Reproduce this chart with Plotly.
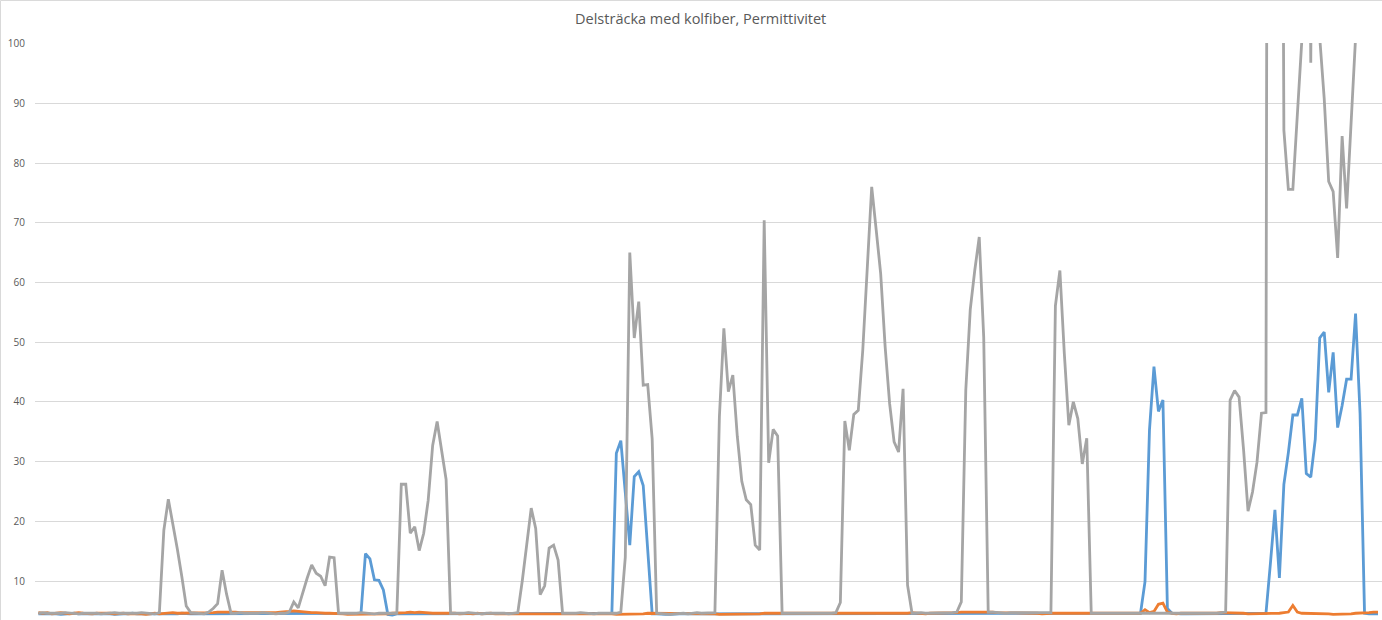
import plotly.graph_objects as go

# Sample number along the measured stretch
sample = list(range(300))

# Permittivity readings, one list per measurement series
serie_1 = [
    4.5, 4.5, 4.6, 4.5, 4.5, 4.4, 4.5, 4.5, 4.6, 4.5,
    4.5, 4.5, 4.5, 4.6, 4.5, 4.5, 4.5, 4.4, 4.5, 4.5,
    4.5, 4.6, 4.5, 4.5, 4.5, 4.5, 4.4, 4.5, 4.5, 4.5,
    4.5, 4.5, 4.6, 4.5, 4.5, 4.5, 4.5, 4.5, 4.6, 4.5,
    4.5, 4.5, 4.5, 4.5, 4.5, 4.6, 4.5, 4.5, 4.5, 4.5,
    4.5, 4.5, 4.5, 4.5, 4.6, 4.5, 4.5, 4.5, 4.5, 4.5,
    4.5, 4.5, 4.5, 4.5, 4.5, 4.5, 4.5, 4.5, 4.5, 4.5,
    4.5, 4.5, 4.6, 14.6, 13.7, 10.2, 10.1, 8.5, 4.4, 4.3,
    4.5, 4.5, 4.5, 4.5, 4.5, 4.5, 4.6, 4.5, 4.5, 4.5,
    4.5, 4.5, 4.5, 4.5, 4.5, 4.5, 4.5, 4.5, 4.5, 4.5,
    4.5, 4.5, 4.5, 4.5, 4.5, 4.5, 4.5, 4.5, 4.5, 4.5,
    4.5, 4.5, 4.5, 4.5, 4.5, 4.5, 4.5, 4.5, 4.5, 4.5,
    4.5, 4.5, 4.5, 4.5, 4.5, 4.5, 4.5, 4.5, 4.6, 31.4,
    33.5, 24.8, 16.0, 27.5, 28.3, 26.0, 15.3, 4.5, 4.5, 4.4,
    4.4, 4.4, 4.5, 4.5, 4.5, 4.5, 4.5, 4.5, 4.5, 4.5,
    4.5, 4.5, 4.5, 4.5, 4.5, 4.5, 4.5, 4.5, 4.5, 4.5,
    4.5, 4.5, 4.5, 4.5, 4.5, 4.5, 4.5, 4.5, 4.5, 4.5,
    4.5, 4.5, 4.5, 4.5, 4.5, 4.5, 4.5, 4.5, 4.5, 4.5,
    4.5, 4.5, 4.5, 4.5, 4.5, 4.5, 4.5, 4.5, 4.5, 4.5,
    4.5, 4.5, 4.5, 4.5, 4.5, 4.5, 4.6, 4.6, 4.5, 4.5,
    4.5, 4.5, 4.5, 4.5, 4.5, 4.5, 4.5, 4.5, 4.5, 4.5,
    4.5, 4.5, 4.5, 4.5, 4.5, 4.5, 4.5, 4.5, 4.5, 4.5,
    4.5, 4.5, 4.5, 4.5, 4.5, 4.5, 4.5, 4.5, 4.5, 4.5,
    4.5, 4.5, 4.5, 4.5, 4.5, 4.5, 4.5, 4.5, 4.5, 4.5,
    4.5, 4.5, 4.5, 4.5, 4.5, 4.5, 4.6, 9.9, 35.3, 45.9,
    38.4, 40.3, 5.4, 4.6, 4.5, 4.5, 4.5, 4.5, 4.5, 4.5,
    4.5, 4.5, 4.5, 4.5, 4.5, 4.5, 4.5, 4.5, 4.5, 4.5,
    4.5, 4.5, 4.5, 4.5, 4.6, 13.0, 21.9, 10.5, 26.2, 31.5,
    37.8, 37.8, 40.6, 28.0, 27.4, 33.7, 50.7, 51.7, 41.6, 48.3,
    35.7, 39.4, 43.8, 43.8, 54.8, 38.1, 4.6, 4.5, 4.5, 4.5,
]

serie_2 = [
    4.7, 4.6, 4.7, 4.5, 4.6, 4.7, 4.6, 4.5, 4.6, 4.7,
    4.6, 4.5, 4.5, 4.6, 4.6, 4.7, 4.6, 4.5, 4.6, 4.6,
    4.5, 4.5, 4.6, 4.5, 4.4, 4.5, 4.6, 4.5, 4.6, 4.6,
    4.7, 4.6, 4.6, 4.7, 4.7, 4.6, 4.6, 4.7, 4.7, 4.7,
    4.8, 4.8, 4.9, 4.8, 4.8, 4.7, 4.7, 4.6, 4.6, 4.7,
    4.6, 4.6, 4.7, 4.7, 4.8, 4.8, 4.9, 5.0, 4.9, 4.8,
    4.8, 4.7, 4.7, 4.6, 4.6, 4.6, 4.6, 4.5, 4.5, 4.4,
    4.4, 4.4, 4.5, 4.5, 4.4, 4.4, 4.4, 4.4, 4.5, 4.6,
    4.6, 4.7, 4.7, 4.8, 4.7, 4.8, 4.7, 4.7, 4.6, 4.6,
    4.6, 4.6, 4.7, 4.6, 4.5, 4.6, 4.6, 4.5, 4.6, 4.5,
    4.6, 4.6, 4.5, 4.5, 4.6, 4.6, 4.5, 4.5, 4.5, 4.6,
    4.6, 4.6, 4.5, 4.5, 4.6, 4.6, 4.6, 4.6, 4.5, 4.5,
    4.6, 4.6, 4.5, 4.5, 4.6, 4.6, 4.5, 4.5, 4.5, 4.4,
    4.4, 4.5, 4.5, 4.4, 4.5, 4.5, 4.6, 4.6, 4.5, 4.6,
    4.6, 4.5, 4.5, 4.6, 4.6, 4.5, 4.5, 4.6, 4.6, 4.5,
    4.5, 4.5, 4.4, 4.4, 4.5, 4.5, 4.5, 4.5, 4.4, 4.5,
    4.5, 4.5, 4.6, 4.6, 4.6, 4.6, 4.5, 4.6, 4.6, 4.6,
    4.6, 4.5, 4.5, 4.6, 4.6, 4.6, 4.6, 4.6, 4.6, 4.6,
    4.6, 4.6, 4.5, 4.5, 4.6, 4.6, 4.6, 4.5, 4.5, 4.5,
    4.6, 4.6, 4.6, 4.6, 4.6, 4.7, 4.6, 4.6, 4.5, 4.6,
    4.6, 4.6, 4.6, 4.7, 4.7, 4.7, 4.8, 4.8, 4.8, 4.8,
    4.8, 4.9, 4.8, 4.8, 4.7, 4.7, 4.7, 4.6, 4.6, 4.6,
    4.6, 4.6, 4.6, 4.6, 4.5, 4.6, 4.6, 4.6, 4.6, 4.5,
    4.5, 4.5, 4.5, 4.5, 4.5, 4.5, 4.6, 4.5, 4.5, 4.5,
    4.5, 4.6, 4.6, 4.5, 4.6, 4.6, 4.6, 5.2, 4.7, 4.9,
    6.1, 6.3, 4.8, 4.6, 4.5, 4.6, 4.6, 4.5, 4.5, 4.6,
    4.6, 4.6, 4.6, 4.6, 4.7, 4.7, 4.6, 4.6, 4.6, 4.6,
    4.5, 4.5, 4.5, 4.5, 4.6, 4.6, 4.6, 4.6, 4.7, 4.8,
    5.9, 4.8, 4.6, 4.6, 4.6, 4.6, 4.5, 4.5, 4.5, 4.4,
    4.4, 4.4, 4.5, 4.5, 4.6, 4.6, 4.7, 4.7, 4.8, 4.8,
]

serie_3 = [
    4.6, 4.7, 4.6, 4.6, 4.5, 4.6, 4.7, 4.6, 4.6, 4.5,
    4.6, 4.6, 4.7, 4.6, 4.5, 4.6, 4.6, 4.7, 4.6, 4.6,
    4.5, 4.6, 4.6, 4.7, 4.6, 4.6, 4.5, 4.7, 18.5, 23.7,
    19.8, 15.4, 10.8, 5.8, 4.7, 4.6, 4.6, 4.5, 4.8, 5.4,
    6.2, 11.8, 7.8, 4.6, 4.6, 4.7, 4.6, 4.6, 4.5, 4.6,
    4.7, 4.6, 4.6, 4.5, 4.6, 4.6, 4.8, 6.5, 5.5, 8.2,
    10.5, 12.7, 11.3, 10.8, 9.2, 14.0, 13.9, 4.6, 4.6, 4.5,
    4.6, 4.6, 4.7, 4.6, 4.6, 4.5, 4.6, 4.6, 4.7, 4.6,
    4.6, 26.2, 26.2, 18.0, 19.1, 15.1, 18.0, 23.5, 32.7, 36.7,
    32.0, 27.0, 4.6, 4.6, 4.5, 4.6, 4.7, 4.6, 4.6, 4.5,
    4.6, 4.6, 4.7, 4.6, 4.6, 4.5, 4.6, 4.7, 10.0, 16.0,
    22.2, 18.8, 7.7, 9.2, 15.5, 16.0, 13.5, 4.6, 4.6, 4.5,
    4.6, 4.7, 4.6, 4.6, 4.5, 4.6, 4.6, 4.7, 4.6, 4.6,
    4.8, 14.0, 65.0, 50.7, 56.8, 42.8, 42.9, 33.8, 4.6, 4.5,
    4.5, 4.4, 4.5, 4.6, 4.6, 4.5, 4.6, 4.7, 4.6, 4.6,
    4.6, 4.7, 37.5, 52.3, 41.7, 44.5, 34.2, 26.7, 23.6, 22.8,
    16.0, 15.2, 70.4, 29.8, 35.4, 34.3, 4.6, 4.6, 4.5, 4.5,
    4.6, 4.6, 4.5, 4.6, 4.6, 4.5, 4.6, 4.6, 4.7, 6.4,
    36.8, 31.9, 37.9, 38.6, 48.6, 62.0, 76.0, 68.8, 61.5, 49.2,
    39.7, 33.3, 31.6, 42.2, 9.3, 4.6, 4.7, 4.7, 4.6, 4.6,
    4.7, 4.6, 4.6, 4.7, 4.7, 4.8, 6.5, 42.0, 55.5, 62.0,
    67.6, 50.8, 4.8, 4.8, 4.7, 4.7, 4.6, 4.7, 4.7, 4.6,
    4.6, 4.7, 4.6, 4.6, 4.7, 4.6, 4.7, 56.1, 62.0, 48.0,
    36.1, 40.0, 37.2, 29.6, 33.9, 4.6, 4.6, 4.5, 4.6, 4.6,
    4.5, 4.6, 4.6, 4.5, 4.6, 4.6, 4.6, 4.5, 4.6, 4.6,
    4.6, 4.6, 4.5, 4.6, 4.6, 4.6, 4.5, 4.6, 4.6, 4.6,
    4.6, 4.5, 4.6, 4.6, 4.7, 4.8, 40.3, 41.9, 40.8, 32.0,
    21.7, 24.9, 29.9, 38.1, 38.2, 420.0, 380.0, 260.0, 85.5, 75.6,
    75.6, 88.0, 100.5, 200.0, 96.8, 220.0, 101.0, 90.8, 76.9, 75.2,
    64.1, 84.5, 72.4, 86.0, 101.0, 180.0, 260.0, 300.0, 240.0, 210.0,
]

y_ticks = [10, 20, 30, 40, 50, 60, 70, 80, 90, 100]

series = [
    ("Serie 1", serie_1, "#5B9BD5"),
    ("Serie 2", serie_2, "#ED7D31"),
    ("Serie 3", serie_3, "#A5A5A5"),
]

fig = go.Figure()
for name, values, color in series:
    fig.add_trace(go.Scatter(
        x=sample, y=values, name=name, mode="lines",
        line=dict(color=color, width=2.8),
        hoverinfo="skip",
    ))

fig.update_layout(
    width=1382, height=620,
    margin=dict(l=35, r=0, t=43, b=0),
    paper_bgcolor="white", plot_bgcolor="white",
    showlegend=False,
    title=dict(
        text="Delsträcka med kolfiber, Permittivitet",
        x=0.507, xanchor="center", y=1 - 19 / 620, yanchor="middle",
        font=dict(family="Open Sans", size=14.5, color="#595959"),
    ),
    xaxis=dict(
        range=[-0.76, 299.9], showgrid=False, zeroline=False,
        showticklabels=False, ticks="", showline=False,
    ),
    yaxis=dict(
        range=[3.47, 100.1], tickmode="array", tickvals=y_ticks,
        showgrid=True, gridcolor="#D9D9D9", gridwidth=1,
        zeroline=False, showline=False, ticks="",
        ticklabelstandoff=9,
        tickfont=dict(family="Open Sans", size=10, color="#595959"),
    ),
    shapes=[
        # light chart-area frame along the top and left edges
        dict(type="line", xref="paper", yref="paper",
             x0=-0.0256, x1=1.0, y0=1.0737, y1=1.0737,
             line=dict(color="#D9D9D9", width=1)),
        dict(type="line", xref="paper", yref="paper",
             x0=-0.0256, x1=-0.0256, y0=0.0, y1=1.0737,
             line=dict(color="#D9D9D9", width=1)),
    ],
)

fig.write_html("out.html")
